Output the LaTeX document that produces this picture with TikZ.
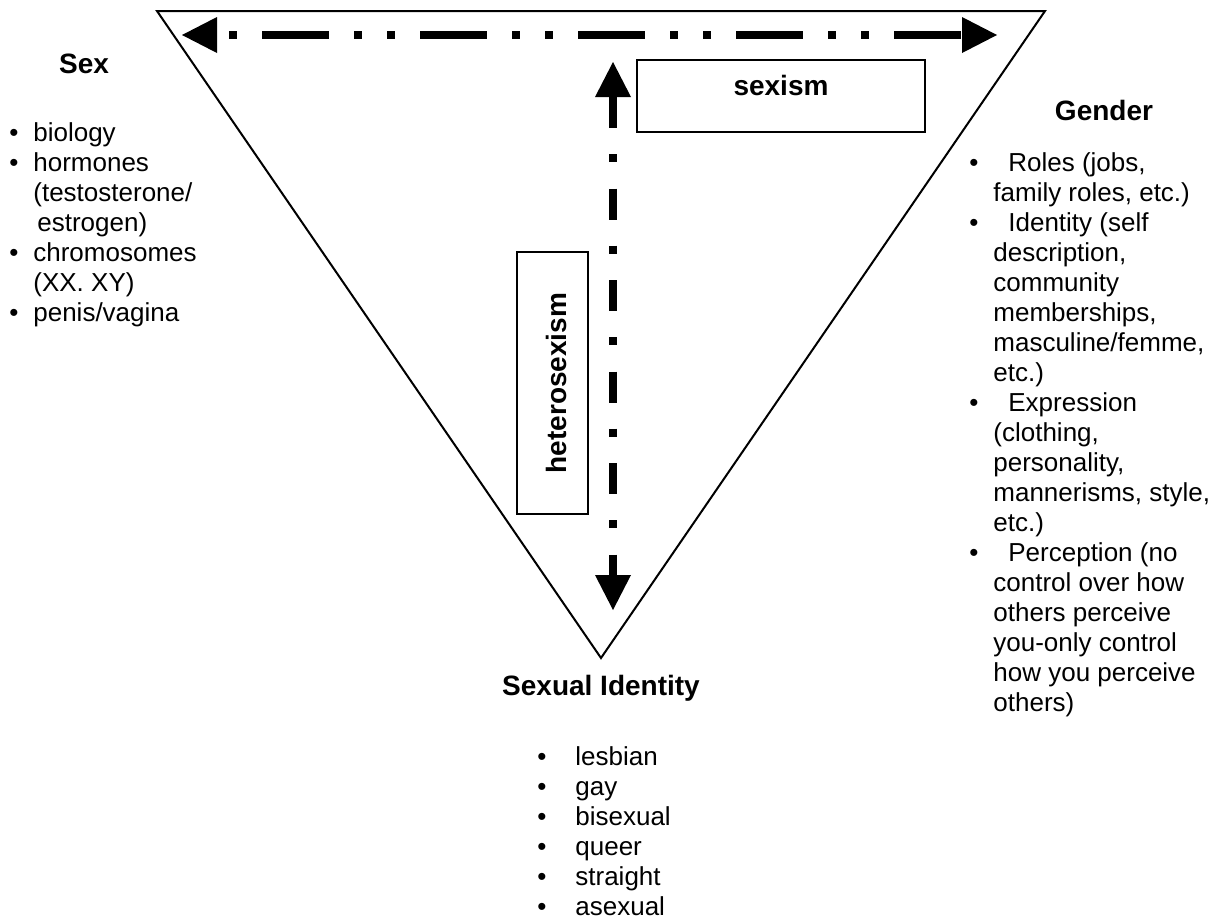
\documentclass[tikz,border=0pt]{standalone}
\usepackage{fontspec}
\setmainfont{Liberation Sans}
\usetikzlibrary{arrows.meta}
\newcommand{\litem}[2]{\makebox[#1][l]{\textbullet}#2}
\newcommand{\lcont}[2]{\hspace*{#1}#2}
\begin{document}
\begin{tikzpicture}[x=0.5pt, y=-0.5pt,
    heading/.style={inner sep=0pt, anchor=base, font=\fontsize{14}{16}\selectfont\bfseries},
    bullets/.style={inner sep=0pt, anchor=base west, font=\fontsize{13}{15}\selectfont},
    labelbox/.style={draw, line width=1pt, inner sep=0pt, font=\fontsize{14}{16}\selectfont\bfseries},
    bigarrow/.style={line width=4pt,
      {Triangle[length=17.5pt, width=18pt, line width=0pt]}-{Triangle[length=17.5pt, width=18pt, line width=0pt]}}]
  \useasboundingbox (0,0) rectangle (1221,922);
  % the triangle
  \coordinate (tl) at (157,11); \coordinate (tr) at (1045,11); \coordinate (bot) at (601,658);
  \draw[line width=1pt, line join=miter] (tl) -- (tr) -- (bot) -- cycle;
  % arrows
  \coordinate (hl) at (182,35); \coordinate (hr) at (997,35);
  \coordinate (vt) at (613,62); \coordinate (vb) at (613,610);
  \draw[bigarrow, dash pattern=on 4pt off 12.5pt on 33.5pt off 12.5pt on 4pt off 12.5pt, dash phase=73pt] (hl) -- (hr);
  \draw[bigarrow, dash pattern=on 15.5pt off 13pt on 4pt off 13.25pt] (vt) -- (vb);
  % boxes
  \node[labelbox, minimum width=144pt, minimum height=36pt, text height=10pt, text depth=11pt] (sexism) at (781,96) {sexism};
  \node[labelbox, rotate=90, minimum width=131pt, minimum height=35.5pt, text height=14pt, text depth=0pt] (hetero) at (552.5,383) {heterosexism};
  % headings
  \node[heading] (sex) at (84,73) {Sex};
  \node[heading] (gender) at (1104,120) {Gender};
  \node[heading] (sexid) at (601,695) {Sexual Identity};
  % lists
  \node[bullets] (sexlist) at (9,141) {\begin{tabular}[t]{@{}l@{}}
    \litem{12pt}{biology}\\
    \litem{12pt}{hormones}\\
    \lcont{12pt}{(testosterone/}\\
    \lcont{14pt}{estrogen)}\\
    \litem{12pt}{chromosomes}\\
    \lcont{12pt}{(XX. XY)}\\
    \litem{12pt}{penis/vagina}
  \end{tabular}};
  \node[bullets] (genderlist) at (969,171) {\begin{tabular}[t]{@{}l@{}}
    \litem{19.5pt}{Roles (jobs,}\\
    \lcont{12pt}{family roles, etc.)}\\
    \litem{19.5pt}{Identity (self}\\
    \lcont{12pt}{description,}\\
    \lcont{12pt}{community}\\
    \lcont{12pt}{memberships,}\\
    \lcont{12pt}{masculine/femme,}\\
    \lcont{12pt}{etc.)}\\
    \litem{19.5pt}{Expression}\\
    \lcont{12pt}{(clothing,}\\
    \lcont{12pt}{personality,}\\
    \lcont{12pt}{mannerisms, style,}\\
    \lcont{12pt}{etc.)}\\
    \litem{19.5pt}{Perception (no}\\
    \lcont{12pt}{control over how}\\
    \lcont{12pt}{others perceive}\\
    \lcont{12pt}{you-only control}\\
    \lcont{12pt}{how you perceive}\\
    \lcont{12pt}{others)}
  \end{tabular}};
  \node[bullets] (sexidlist) at (537,765) {\begin{tabular}[t]{@{}l@{}}
    \litem{19pt}{lesbian}\\
    \litem{19pt}{gay}\\
    \litem{19pt}{bisexual}\\
    \litem{19pt}{queer}\\
    \litem{19pt}{straight}\\
    \litem{19pt}{asexual}
  \end{tabular}};
\end{tikzpicture}
\end{document}
